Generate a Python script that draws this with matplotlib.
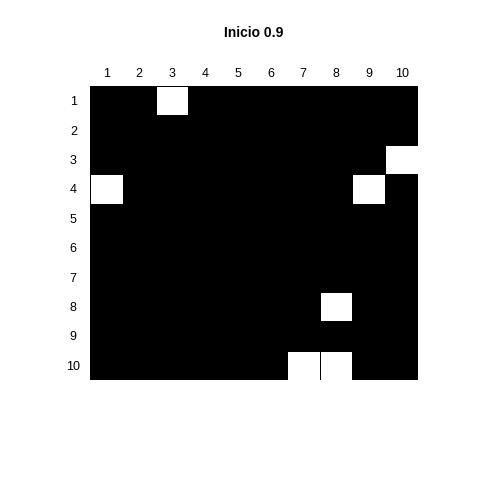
import matplotlib

matplotlib.use("Agg")
import matplotlib.pyplot as plt
import numpy as np

plt.rcParams["font.family"] = ["Liberation Sans", "DejaVu Sans"]

# 10x10 grid, 1 = black, 0 = white (row, col are 1-based)
N_ROWS = 10
N_COLS = 10
WHITE_CELLS = [(1, 3), (3, 10), (4, 1), (4, 9), (8, 8), (10, 7), (10, 8)]
ROW_LABELS = [str(i) for i in range(1, 11)]
COL_LABELS = [str(i) for i in range(1, 11)]
TITLE = "Inicio 0.9"

grid = np.ones((N_ROWS, N_COLS))
for r, c in WHITE_CELLS:
    grid[r - 1, c - 1] = 0

fig = plt.figure(figsize=(4.8, 4.8), dpi=100)
ax = fig.add_axes([90 / 480, 1 - 380 / 480, 328 / 480, 294 / 480])

ax.pcolormesh(np.arange(N_COLS + 1), np.arange(N_ROWS + 1), grid,
              cmap="gray_r", vmin=0, vmax=1, edgecolors="black", linewidth=0.6)
ax.set_xlim(0, N_COLS)
ax.set_ylim(N_ROWS, 0)

ax.xaxis.tick_top()
ax.set_xticks(np.arange(N_COLS) + 0.5)
ax.set_xticklabels(COL_LABELS, fontsize=9)
ax.set_yticks(np.arange(N_ROWS) + 0.5)
ax.set_yticklabels(ROW_LABELS, fontsize=9, ha="center")
ax.tick_params(length=0)
ax.tick_params(axis="x", pad=4)
ax.tick_params(axis="y", pad=12)
for s_ in ax.spines.values():
    s_.set_visible(False)

ax.set_title(TITLE, fontsize=10, fontweight="bold", pad=35)

fig.savefig("out.png", dpi=100)
